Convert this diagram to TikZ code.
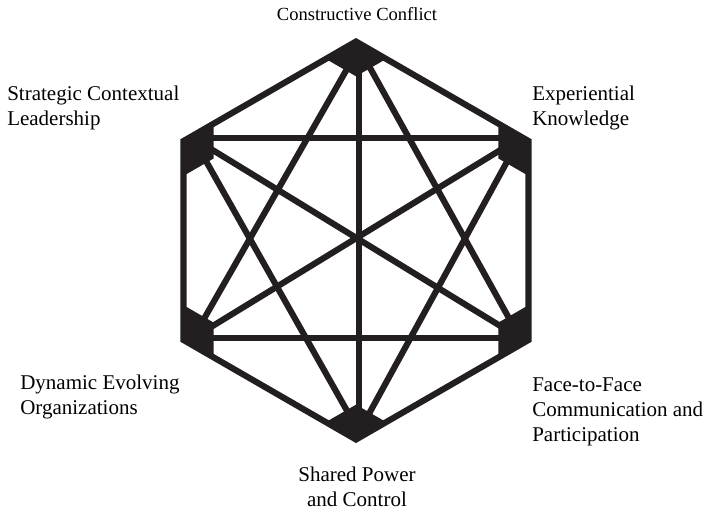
\documentclass[tikz,border=0pt]{standalone}
\usepackage{fontspec}
\setmainfont{Liberation Serif}
\usetikzlibrary{calc}
\definecolor{ink}{RGB}{35,31,32}
\begin{document}
\begin{tikzpicture}[x=0.75pt,y=-0.75pt,
  edge/.style={draw=ink,line width=4.6pt},
  lab/.style={inner sep=0pt,text=black,font=\fontsize{15.75}{18.75}\selectfont}]
\useasboundingbox (0,0) rectangle (709,512);
\coordinate (C) at (356,240.5);
% outer hexagon corners
\coordinate (hT)  at (356,41.5);
\coordinate (hUR) at (528.5,141);
\coordinate (hLR) at (528.5,340);
\coordinate (hB)  at (356,439.5);
\coordinate (hLL) at (183.5,340);
\coordinate (hUL) at (183.5,141);
% end points of the inner links
\coordinate (kT)  at (359,48);
\coordinate (kUR) at (520,138);
\coordinate (kLR) at (520,338);
\coordinate (kB)  at (359,432);
\coordinate (kLL) at (193,338);
\coordinate (kUL) at (193,138);
% solid corner pieces
\foreach \v/\a/\b in {hT/hUL/hUR,hUL/hT/hLL,hLL/hUL/hB,hB/hLL/hLR,hLR/hB/hUR,hUR/hLR/hT}
  \fill[ink] (\v) -- ($(\v)!0.175!(\a)$) -- ($(\v)!0.175!(C)$) -- ($(\v)!0.175!(\b)$) -- cycle;
% outline
\draw[edge] (hT) -- (hUR) -- (hLR) -- (hB) -- (hLL) -- (hUL) -- cycle;
% inner links
\draw[edge] (kT) -- (kB);
\draw[edge] (kUL) -- (kUR);
\draw[edge] (kLL) -- (kLR);
\draw[edge] (kUL) -- (kLR);
\draw[edge] (kUR) -- (kLL);
\draw[edge] (kT) -- (kLL);
\draw[edge] (kT) -- (kLR);
\draw[edge] (kB) -- (kUL);
\draw[edge] (kB) -- (kUR);
% labels
\node[lab,anchor=north,align=center,font=\fontsize{13.9}{16.5}\selectfont] (cc) at (357,7.4) {Constructive Conflict};
\node[lab,anchor=north west,align=left] (scl) at (7,85.7) {Strategic Contextual\\Leadership};
\node[lab,anchor=north west,align=left] (ek) at (532,85.7) {Experiential\\Knowledge};
\node[lab,anchor=north west,align=left] (deo) at (20,374.7) {Dynamic Evolving\\Organizations};
\node[lab,anchor=north west,align=left] (ffc) at (532,377.4) {Face-to-Face\\Communication and\\Participation};
\node[lab,anchor=north,align=center] (spc) at (357,467) {Shared Power\\and Control};
\end{tikzpicture}
\end{document}
